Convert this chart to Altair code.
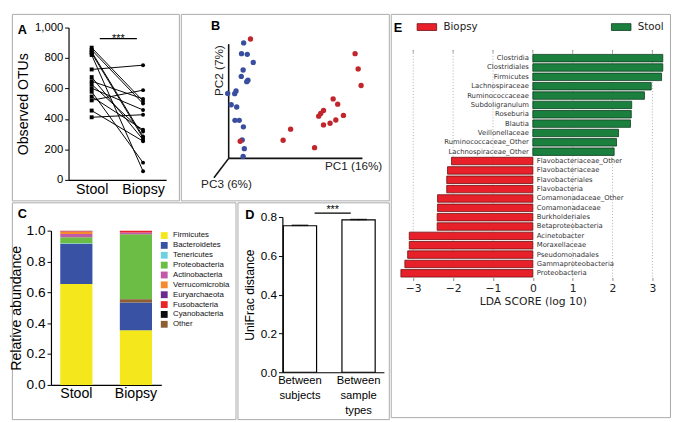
import altair as alt
import pandas as pd

FONT = "Liberation Sans"
FONT_E = "DejaVu Sans"
BORDER = "#a9a9a9"

# ---------------- data ----------------
# A: observed OTUs, paired stool / biopsy per subject
stool_otus = [868, 853, 841, 832, 820, 725, 675, 648, 627, 602, 579, 547, 522, 455, 411]
biopsy_otus = [518, 501, 285, 275, 57, 753, 264, 532, 317, 459, 113, 329, 589, 254, 428]
otu_sig = [927]

# B: PCoA coordinates (PC1, PC2 as % of drawn axis length)
blue_pc1 = [11.2, 9.6, 13.9, 18.4, 10.8, 9.4, 14.4, 13.5, 5.5, 4.5, -0.7, 1.9, 6.0, 4.7, 7.9, 11.0, 10.1, 11.7, 10.8]
blue_pc2 = [101.1, 91.7, 91.1, 84.0, 77.4, 71.8, 68.4, 67.2, 59.0, 56.7, 56.9, 47.0, 45.0, 33.3, 33.3, 27.6, 16.2, 8.5, 1.7]
red_pc1 = [16.3, 94.5, 96.8, 99.0, 78.1, 81.5, 70.9, 68.8, 67.3, 85.8, 80.1, 75.8, 70.9, 46.3, 40.7, 64.2, 8.6]
red_pc2 = [104.5, 91.7, 78.3, 63.8, 52.1, 47.5, 41.9, 39.3, 37.0, 37.6, 33.6, 30.8, 29.3, 25.6, 15.9, 9.4, 15.0]

# C: relative abundance of phyla
phyla = ["Firmicutes", "Bacteroidetes", "Tenericutes", "Proteobacteria", "Actinobacteria",
         "Verrucomicrobia", "Euryarchaeota", "Fusobacteria", "Cyanobacteria", "Other"]
phyla_colors = ["#f4e81c", "#3a52a3", "#6fd0e0", "#6cbd45", "#c15aa9",
                "#f58a2e", "#6b2c8e", "#e8232a", "#0d0d0d", "#8b5e34"]
stool_abund = [0.655, 0.26, 0.003, 0.04, 0.02, 0.015, 0.002, 0.002, 0.001, 0.002]
biopsy_abund = [0.355, 0.18, 0.001, 0.42, 0.012, 0.0, 0.0, 0.012, 0.0, 0.02]
biopsy_order = [0, 1, 2, 3, 4, 5, 6, 7, 8, 1.5]

# D: UniFrac distance
unifrac_groups = ["Between subjects", "Between sample types"]
unifrac_mean = [0.755, 0.785]
unifrac_sem = [0.002, 0.002]
unifrac_sig = [0.82]

# E: LEfSe LDA scores
lda_taxa = ["Clostridia", "Clostridiales", "Firmicutes", "Lachnospiraceae", "Ruminococcaceae",
            "Subdoligranulum", "Roseburia", "Blautia", "Veillonellaceae", "Ruminococcaceae_Other",
            "Lachnospiraceae_Other", "Flavobacteriaceae_Other", "Flavobacteriaceae", "Flavobacteriales",
            "Flavobacteria", "Comamonadaceae_Other", "Comamonadaceae", "Burkholderiales",
            "Betaproteobacteria", "Acinetobacter", "Moraxellaceae", "Pseudomonadales",
            "Gammaproteobacteria", "Proteobacteria"]
lda_scores = [3.26, 3.26, 3.23, 2.97, 2.80, 2.48, 2.47, 2.45, 2.15, 2.10, 2.04,
              -2.04, -2.14, -2.16, -2.16, -2.39, -2.39, -2.40, -2.40, -3.10, -3.10, -3.14, -3.21, -3.31]
lda_groups = ["Stool"] * 11 + ["Biopsy"] * 13
lda_ticks = [-3, -2, -1, 0, 1, 2, 3]

# ---------------- sizes ----------------
W_A, H_A = 171, 191
W_B, H_B = 213, 191
W_C, H_C = 229, 222
W_D, H_D = 155, 222
W_E, H_E = 286, 413


def letter(ch, x, y):
    return alt.Chart(pd.DataFrame({"t": [ch]})).mark_text(
        font=FONT, fontSize=13, fontWeight="bold", align="left", baseline="alphabetic", color="black"
    ).encode(text="t:N", x=alt.value(x), y=alt.value(y))


# ---------------- Panel A ----------------
n = len(stool_otus)
dfA = pd.DataFrame({
    "subject": list(range(n)) * 2,
    "sample": ["Stool"] * n + ["Biopsy"] * n,
    "otus": stool_otus + biopsy_otus,
})
A_BOTTOM = 170
xA = alt.X("sample:N", sort=["Stool", "Biopsy"],
           scale=alt.Scale(type="point", domain=["Stool", "Biopsy"], range=[58, 158], padding=0.45),
           axis=alt.Axis(title=None, offset=A_BOTTOM - H_A, labelFontSize=14.5, ticks=False,
                         labelAngle=0, labelPadding=3))
axA = alt.Axis(title="Observed OTUs", offset=-58, values=[0, 200, 400, 600, 800, 1000],
               tickSize=4, labelFontSize=11.5, titleFontSize=14.5, labelPadding=2, titlePadding=4)
yA = alt.Y("otus:Q", scale=alt.Scale(domain=[0, 1000], range=[A_BOTTOM, 14], nice=False, zero=False), axis=axA)

linesA = alt.Chart(dfA).mark_line(color="black", strokeWidth=1).encode(x=xA, y=yA, detail="subject:N")
sqA = alt.Chart(dfA).transform_filter(alt.datum.sample == "Stool").mark_point(
    shape="square", filled=True, color="black", size=16, opacity=1).encode(x=xA, y=yA)
ciA = alt.Chart(dfA).transform_filter(alt.datum.sample == "Biopsy").mark_point(
    shape="circle", filled=True, color="black", size=16, opacity=1).encode(x=xA, y=yA)
dfSigA = pd.DataFrame({"otus": otu_sig})
sigA = alt.Chart(dfSigA).mark_rule(color="black", strokeWidth=1.2).encode(
    x=alt.value(90), x2=alt.value(128), y=yA)
sigTA = alt.Chart(dfSigA.assign(t="***")).mark_text(
    font=FONT, fontSize=11, color="black", dy=3, baseline="alphabetic").encode(
    x=alt.value(109), y=yA, text="t:N")
panelA = alt.layer(linesA, sqA, ciA, sigA, sigTA, letter("A", 6, 21)).properties(width=W_A, height=H_A)

# ---------------- Panel B ----------------
dfB = pd.DataFrame({
    "pc1": blue_pc1 + red_pc1,
    "pc2": blue_pc2 + red_pc2,
    "col": ["#3a4e9f"] * len(blue_pc1) + ["#c0262c"] * len(red_pc1),
})
xB = alt.X("pc1:Q", scale=alt.Scale(domain=[0, 100], range=[49, 186], nice=False, zero=False), axis=None)
yB = alt.Y("pc2:Q", scale=alt.Scale(domain=[0, 100], range=[148, 31], nice=False, zero=False), axis=None)
axesB = pd.DataFrame({"pc1": [0, 0, 0], "pc2": [0, 0, 0], "pc1e": [0, 100, -11], "pc2e": [100, 0, -17]})
ruleB = alt.Chart(axesB).mark_rule(color="#111111", strokeWidth=1.6).encode(
    x=xB, y=yB, x2="pc1e:Q", y2="pc2e:Q")
ptsB = alt.Chart(dfB).mark_circle(size=30, opacity=1).encode(
    x=xB, y=yB, color=alt.Color("col:N", scale=None))
labB = alt.Chart(pd.DataFrame({"pc1": [72, -20.6], "pc2": [-6.6, -22.8], "label": ["PC1 (16%)", "PC3 (6%)"]})
                 ).mark_text(font=FONT, fontSize=12, align="left", baseline="middle", color="#222").encode(
    x=xB, y=yB, text="label:N")
labB2 = alt.Chart(pd.DataFrame({"pc1": [-7.2], "pc2": [76.8], "label": ["PC2 (7%)"]})
                  ).mark_text(font=FONT, fontSize=12, align="center", baseline="middle", angle=270,
                              color="#222").encode(x=xB, y=yB, text="label:N")
panelB = alt.layer(ruleB, ptsB, labB, labB2, letter("B", 31, 16)).properties(width=W_B, height=H_B)

# ---------------- Panel C ----------------
rowsC = []
for i, p in enumerate(phyla):
    rowsC.append({"sample": "Stool", "phylum": p, "value": stool_abund[i], "ord": i})
    rowsC.append({"sample": "Biopsy", "phylum": p, "value": biopsy_abund[i], "ord": biopsy_order[i]})
dfC = pd.DataFrame(rowsC)
C_BOTTOM = 187
barsC = alt.Chart(dfC).mark_bar().encode(
    x=alt.X("sample:N", sort=["Stool", "Biopsy"],
            scale=alt.Scale(domain=["Stool", "Biopsy"], range=[40, 153], paddingInner=0.46, paddingOuter=0.156),
            axis=alt.Axis(title=None, offset=C_BOTTOM - H_C, labelFontSize=14.5, ticks=False,
                          labelAngle=0, labelPadding=2)),
    y=alt.Y("value:Q", stack="zero",
            scale=alt.Scale(domain=[0, 1], range=[C_BOTTOM, 29], nice=False),
            axis=alt.Axis(title="Relative abundance", offset=-40, values=[0, 0.2, 0.4, 0.6, 0.8, 1.0],
                          format=".1f", tickSize=4, labelFontSize=14, titleFontSize=14.5,
                          labelPadding=2, titlePadding=3)),
    color=alt.Color("phylum:N", scale=alt.Scale(domain=phyla, range=phyla_colors),
                    legend=alt.Legend(title=None, orient="none", legendX=152, legendY=30,
                                      symbolType="square", symbolSize=49, symbolStrokeWidth=0,
                                      labelFontSize=8, labelFont=FONT, labelColor="#111",
                                      rowPadding=2.1, labelOffset=5, padding=0)),
    order=alt.Order("ord:Q", sort="ascending"),
)
panelC = alt.layer(barsC, letter("C", 6, 16)).properties(width=W_C, height=H_C)

# ---------------- Panel D ----------------
dfD = pd.DataFrame({"comparison": unifrac_groups, "mean": unifrac_mean, "sem": unifrac_sem})
dfD["lo"] = dfD["mean"] - dfD["sem"]
dfD["hi"] = dfD["mean"] + dfD["sem"]
D_BOTTOM = 174
xD = alt.X("comparison:N", sort=unifrac_groups,
           scale=alt.Scale(domain=unifrac_groups, range=[46, 150], paddingInner=0.433,
                           paddingOuter=0.083, align=0.1),
           axis=alt.Axis(title=None, offset=D_BOTTOM - H_D, labelExpr="split(datum.label, ' ')",
                         labelFontSize=11.5, labelLineHeight=15, labelAngle=0, ticks=False,
                         labelPadding=3, labelBaseline="top"))
scD = alt.Scale(domain=[0, 0.8], range=[D_BOTTOM, 15], nice=False, zero=False)
axD = alt.Axis(title="UniFrac distance", offset=-46, values=[0, 0.2, 0.4, 0.6, 0.8], format=".1f",
               tickSize=4, labelFontSize=12, titleFontSize=12.5, labelPadding=2, titlePadding=4)
barsD = alt.Chart(dfD).mark_bar(fill="white", stroke="black", strokeWidth=1.2).encode(
    x=xD, y=alt.Y("mean:Q", scale=scD, axis=axD))
errD = alt.Chart(dfD).mark_rule(color="black", strokeWidth=1.2).encode(
    x=xD, y=alt.Y("lo:Q", scale=scD, axis=axD), y2="hi:Q")
capD = alt.Chart(dfD).mark_tick(color="black", thickness=1.6, size=17).encode(
    x=xD, y=alt.Y("hi:Q", scale=scD, axis=axD))
dfSigD = pd.DataFrame({"mean": unifrac_sig, "t": ["***"]})
sigD = alt.Chart(dfSigD).mark_rule(color="black", strokeWidth=1.2).encode(
    x=alt.value(79), x2=alt.value(116), y=alt.Y("mean:Q", scale=scD, axis=axD))
sigTD = alt.Chart(dfSigD).mark_text(font=FONT, fontSize=11, color="black", dy=0, baseline="alphabetic").encode(
    x=alt.value(97.5), y=alt.Y("mean:Q", scale=scD, axis=axD), text="t:N")
panelD = alt.layer(barsD, errD, capD, sigD, sigTD, letter("D", 8, 17)).properties(width=W_D, height=H_D)

# ---------------- Panel E ----------------
dfE = pd.DataFrame({"taxon": lda_taxa, "score": lda_scores, "group": lda_groups})
dfE["base"] = 0
dfE["fill"] = ["#1b7f3e" if g == "Stool" else "#e8202a" for g in lda_groups]
dfE["edge"] = ["#0d3d1d" if g == "Stool" else "#6e0e0e" for g in lda_groups]
E_TOP = 37
E_BOTTOM = 270
scE = alt.Scale(domain=[-3.4, 3.4], range=[6.7, 284.3], nice=False, zero=False)
axE = alt.Axis(values=lda_ticks, format="d", title="LDA SCORE (log 10)", offset=E_BOTTOM - H_E,
               grid=False, domain=False,
               tickSize=3, tickColor="#888888", labelFont=FONT_E, labelFontSize=11, labelColor="#222",
               titleFont=FONT_E, titleFontSize=11, titleColor="#222", labelPadding=2, titlePadding=3)
yE = alt.Y("taxon:N", sort=lda_taxa,
           scale=alt.Scale(domain=lda_taxa, range=[41, E_BOTTOM], paddingInner=0.2, paddingOuter=0.05),
           axis=None)
dfGrid = pd.DataFrame({"score": lda_ticks})
gridE = alt.Chart(dfGrid).mark_rule(color="#9a9a9a", strokeWidth=0.8, strokeDash=[1, 2]).encode(
    x=alt.X("score:Q", scale=scE, axis=axE), y=alt.value(E_TOP), y2=alt.value(E_BOTTOM))
topTickE = alt.Chart(dfGrid).mark_rule(color="#888888", strokeWidth=0.8).encode(
    x=alt.X("score:Q", scale=scE, axis=axE), y=alt.value(E_TOP), y2=alt.value(E_TOP + 3))
barsE = alt.Chart(dfE).mark_bar(strokeWidth=0.8).encode(
    x=alt.X("score:Q", scale=scE, axis=axE), x2="base:Q", y=yE,
    fill=alt.Fill("fill:N", scale=None), stroke=alt.Stroke("edge:N", scale=None))
labS = alt.Chart(dfE).transform_filter(alt.datum.group == "Stool").mark_text(
    align="right", dx=-4, font=FONT_E, fontSize=7, color="#333").encode(
    x=alt.X("base:Q", scale=scE, axis=axE), y=yE, text="taxon:N")
labR = alt.Chart(dfE).transform_filter(alt.datum.group == "Biopsy").mark_text(
    align="left", dx=4, font=FONT_E, fontSize=7, color="#333").encode(
    x=alt.X("base:Q", scale=scE, axis=axE), y=yE, text="taxon:N")


def legend_rect(x0, color, edge):
    return alt.Chart(pd.DataFrame({"k": [0]})).mark_rect(fill=color, stroke=edge, strokeWidth=0.8).encode(
        x=alt.value(x0), x2=alt.value(x0 + 20), y=alt.value(10), y2=alt.value(17))


def legend_text(x0, label):
    return alt.Chart(pd.DataFrame({"t": [label]})).mark_text(
        font=FONT_E, fontSize=10.5, align="left", baseline="middle", color="#222").encode(
        x=alt.value(x0), y=alt.value(14), text="t:N")


panelE = alt.layer(
    gridE, topTickE, barsE, labS, labR,
    legend_rect(27, "#e8202a", "#6e0e0e"), legend_text(54, "Biopsy"),
    legend_rect(226, "#1b7f3e", "#0d3d1d"), legend_text(253, "Stool"),
    letter("E", 3, 19),
).properties(width=W_E, height=H_E)

# ---------------- assemble ----------------
top = alt.hconcat(panelA, panelB, spacing=0).resolve_scale(color="independent")
bottom = alt.hconcat(panelC, panelD, spacing=0).resolve_scale(color="independent")
left = alt.vconcat(top, bottom, spacing=0).resolve_scale(color="independent")
chart = alt.hconcat(left, panelE, spacing=0).resolve_scale(color="independent").properties(
    padding=0, background="white"
).configure(font=FONT).configure_view(
    stroke=BORDER, strokeWidth=1
).configure_axis(
    labelFont=FONT, titleFont=FONT, titleFontWeight="normal", labelColor="black", titleColor="black",
    domainColor="black", tickColor="black", grid=False, domainWidth=1.2
)

chart.save("out.html", embed_options={"renderer": "svg", "actions": False})
